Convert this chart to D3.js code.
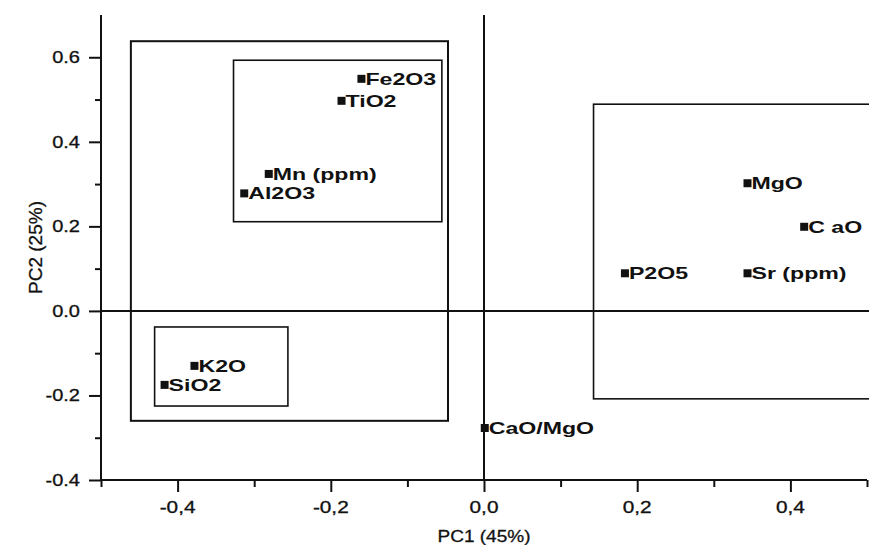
<!DOCTYPE html>
<html>
<head>
<meta charset="utf-8">
<script src="https://cdn.jsdelivr.net/npm/d3@7"></script>
<style>
  html, body { margin: 0; padding: 0; background: #fff; }
  svg { display: block; font-family: "Liberation Sans", Arial, sans-serif; }
</style>
</head>
<body>
<svg id="chart" width="869" height="545"></svg>
<script>
// ---- data ----
const variables = ["Fe2O3", "TiO2", "Mn (ppm)", "Al2O3", "K2O", "SiO2", "CaO/MgO", "MgO", "C aO", "P2O5", "Sr (ppm)"];
const pc1 = [-0.160, -0.186, -0.281, -0.313, -0.378, -0.417, 0.001, 0.344, 0.418, 0.184, 0.344];
const pc2 = [0.549, 0.497, 0.324, 0.278, -0.130, -0.175, -0.277, 0.302, 0.199, 0.089, 0.089];
// group boxes: [pc1 min, pc1 max, pc2 min, pc2 max]
const groupBoxes = [
  [-0.461, -0.047, -0.260, 0.638],
  [-0.327, -0.055, 0.211, 0.593],
  [-0.430, -0.256, -0.225, -0.038],
  [0.143, 0.53, -0.208, 0.489]
];
const xMajorTicks = [-0.4, -0.2, 0.0, 0.2, 0.4];
const xMinorTicks = [-0.5, -0.3, -0.1, 0.1, 0.3, 0.5];
const yMajorTicks = [-0.4, -0.2, 0.0, 0.2, 0.4, 0.6];
const yMinorTicks = [-0.3, -0.1, 0.1, 0.3, 0.5];
const xTitle = "PC1 (45%)";
const yTitle = "PC2 (25%)";

// ---- chart ----
const svg = d3.select("#chart");
const x = d3.scaleLinear().domain([-0.5, 0.5]).range([101, 867]);
const y = d3.scaleLinear().domain([-0.4, 0.7]).range([480, 15]);
const ink = "#111";

// group boxes
svg.append("g").selectAll("rect").data(groupBoxes).join("rect")
  .attr("x", d => x(d[0]))
  .attr("y", d => y(d[3]))
  .attr("width", d => x(d[1]) - x(d[0]))
  .attr("height", d => y(d[2]) - y(d[3]))
  .attr("fill", "none")
  .attr("stroke", ink)
  .attr("stroke-width", (d, i) => i === 0 ? 2 : 1.6);

// zero lines
svg.append("line").attr("x1", x(-0.5)).attr("x2", 869).attr("y1", y(0)).attr("y2", y(0))
  .attr("stroke", ink).attr("stroke-width", 2);
svg.append("line").attr("x1", x(0)).attr("x2", x(0)).attr("y1", y(0.7)).attr("y2", y(-0.4))
  .attr("stroke", ink).attr("stroke-width", 2);

// x axis
const fmtComma = v => d3.format(".1f")(v).replace(".", ",").replace("−", "-");
const gx = svg.append("g").attr("transform", `translate(0,${y(-0.4)})`);
gx.call(d3.axisBottom(x).tickValues(xMajorTicks).tickSize(12).tickSizeOuter(0).tickFormat(""));
gx.selectAll(".tick text").remove();
gx.append("g").call(d3.axisBottom(x).tickValues(xMinorTicks).tickSize(7).tickFormat(""))
  .select(".domain").remove();
gx.selectAll("path, line").attr("stroke", ink).attr("stroke-width", 2);
gx.select(".domain").attr("d", `M${x(-0.5)},0H${x(0.5)}`);
gx.selectAll(".xlab").data(xMajorTicks).join("g")
  .attr("class", "xlab")
  .attr("transform", d => `translate(${x(d)},33) scale(1.3,1)`)
  .append("text")
  .attr("text-anchor", "middle")
  .attr("font-size", 16)
  .attr("fill", ink)
  .attr("stroke", ink).attr("stroke-width", 0.3)
  .text(fmtComma);

// y axis
const gy = svg.append("g").attr("transform", `translate(${x(-0.5)},0)`);
gy.call(d3.axisLeft(y).tickValues(yMajorTicks).tickSize(12).tickSizeOuter(0).tickFormat(""));
gy.selectAll(".tick text").remove();
gy.append("g").call(d3.axisLeft(y).tickValues(yMinorTicks).tickSize(6).tickFormat(""))
  .select(".domain").remove();
gy.selectAll("path, line").attr("stroke", ink).attr("stroke-width", 2);
gy.select(".domain").attr("d", `M0,${y(0.7)}V${y(-0.4)}`);
gy.selectAll(".ylab").data(yMajorTicks).join("g")
  .attr("class", "ylab")
  .attr("transform", d => `translate(-21,${y(d) + 6}) scale(1.25,1)`)
  .append("text")
  .attr("text-anchor", "end")
  .attr("font-size", 16)
  .attr("fill", ink)
  .attr("stroke", ink).attr("stroke-width", 0.3)
  .text(d => d3.format(".1f")(d).replace("−", "-"));

// axis titles
svg.append("g").attr("transform", `translate(${x(0)},542) scale(1.12,1)`)
  .append("text").attr("text-anchor", "middle").attr("font-size", 17).attr("fill", ink)
  .attr("stroke", ink).attr("stroke-width", 0.3).text(xTitle);
svg.append("text")
  .attr("transform", `translate(42,${(y(0.7) + y(-0.4)) / 2}) rotate(-90)`)
  .attr("text-anchor", "middle").attr("font-size", 19).attr("fill", ink)
  .attr("stroke", ink).attr("stroke-width", 0.3).text(yTitle);

// points + labels
const pts = variables.map((name, i) => ({ name, px: pc1[i], py: pc2[i] }));
const gp = svg.append("g");
gp.selectAll("rect").data(pts).join("rect")
  .attr("x", d => x(d.px) - 4)
  .attr("y", d => y(d.py) - 4)
  .attr("width", 8).attr("height", 8)
  .attr("fill", ink);
gp.selectAll("g.lab").data(pts).join("g")
  .attr("class", "lab")
  .attr("transform", d => `translate(${x(d.px) + 4},${y(d.py) + 6}) scale(1.36,1)`)
  .append("text")
  .attr("font-size", 17)
  .attr("font-weight", "bold")
  .attr("fill", ink)
  .text(d => d.name);
</script>
</body>
</html>
